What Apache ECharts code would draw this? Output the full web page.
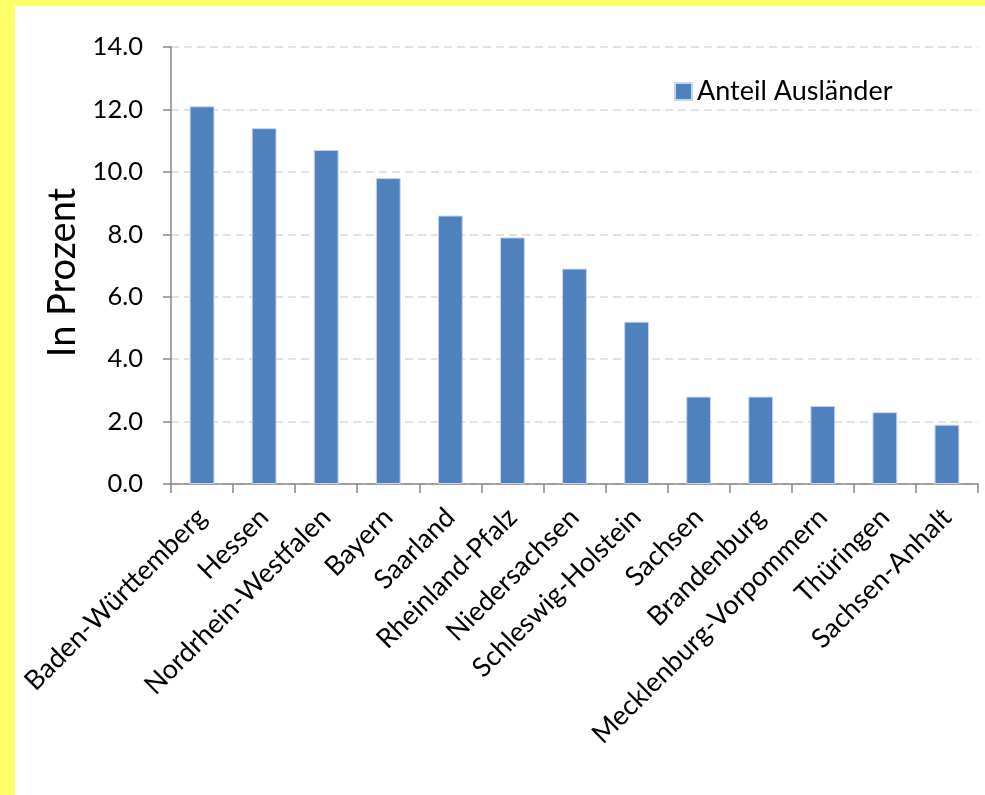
<!DOCTYPE html>
<html><head><meta charset="utf-8">
<script src="https://cdn.jsdelivr.net/npm/echarts@6/dist/echarts.min.js"></script>
<style>html,body{margin:0;padding:0;background:#fff}#c{width:985px;height:795px}</style>
</head><body><div id="c"></div>
<script>
const categories = ["Baden-Württemberg","Hessen","Nordrhein-Westfalen","Bayern","Saarland","Rheinland-Pfalz","Niedersachsen","Schleswig-Holstein","Sachsen","Brandenburg","Mecklenburg-Vorpommern","Thüringen","Sachsen-Anhalt"];
const anteilAuslaender = [12.1, 11.4, 10.7, 9.8, 8.6, 7.9, 6.9, 5.2, 2.8, 2.8, 2.5, 2.3, 1.9];
const seriesName = "Anteil Ausländer";
const yAxisTitle = "In Prozent";

const font = "Lato, 'Noto Sans', sans-serif";
const chart = echarts.init(document.getElementById('c'));
chart.setOption({
  backgroundColor: '#fff',
  animation: false,
  graphic: [
    {type:'rect', shape:{x:0,y:0,width:15,height:795}, style:{fill:'#FFFF66'}, z:100},
    {type:'rect', shape:{x:0,y:0,width:985,height:6}, style:{fill:'#FFFF66'}, z:100}
  ],
  grid: {left:171, right:7, top:47, bottom:311, containLabel:false},
  legend: {
    data:[seriesName], left:672, top:76, itemWidth:17, itemHeight:17, itemGap:6,
    icon:'rect', backgroundColor:'#fff', padding:[2,4,2,2],
    textStyle:{fontFamily:font, fontSize:27, color:'#000'}
  },
  xAxis: {
    type:'category', data:categories,
    axisLine:{lineStyle:{color:'#868686', width:1.5}},
    axisTick:{show:true, length:9, alignWithLabel:false, lineStyle:{color:'#868686', width:1.5}},
    axisLabel:{rotate:45, interval:0, margin:29, fontFamily:font, fontSize:27, color:'#000'}
  },
  yAxis: {
    type:'value', min:0, max:14, interval:2,
    name:yAxisTitle, nameLocation:'middle', nameGap:89, nameRotate:90,
    nameTextStyle:{fontFamily:font, fontSize:38, color:'#000', padding:[0,14,0,0]},
    axisLine:{show:true, lineStyle:{color:'#868686', width:1.5}},
    axisTick:{show:true, length:8, lineStyle:{color:'#868686', width:1.5}},
    axisLabel:{margin:28, fontFamily:font, fontSize:25.5, color:'#000', formatter:v=>v.toFixed(1)},
    splitLine:{show:true, lineStyle:{color:'#d9d9d9', type:[8,5], width:1.5}}
  },
  series: [{
    name:seriesName, type:'bar', data:anteilAuslaender, barWidth:'40%',
    itemStyle:{color:'#4F81BD', borderColor:'#c6d5ea', borderWidth:1}
  }]
});
</script></body></html>
